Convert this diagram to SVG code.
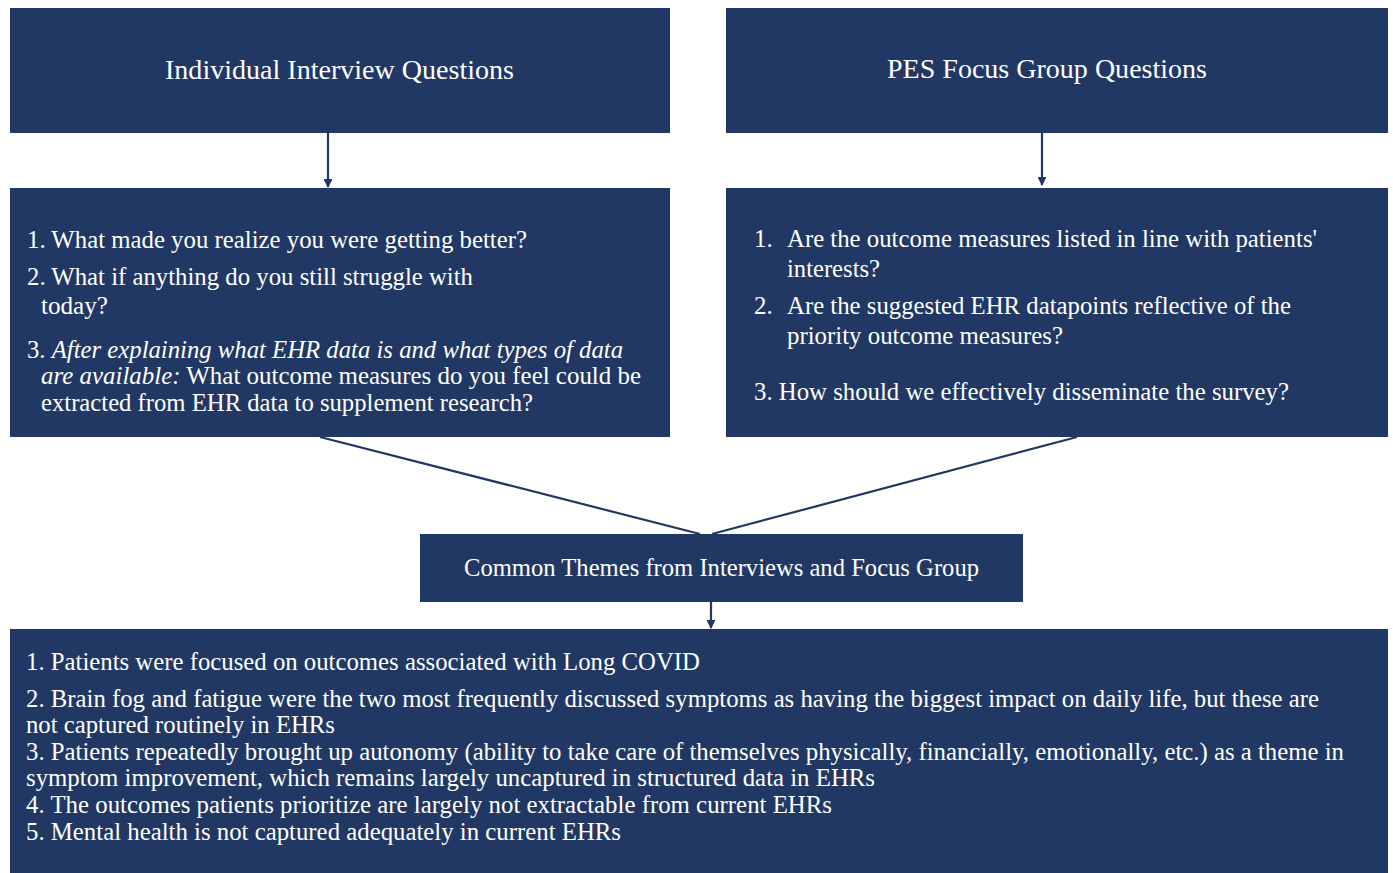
<svg xmlns="http://www.w3.org/2000/svg" width="1393" height="873" viewBox="0 0 1393 873">
<style>
.box{fill:#213864;}
.t{font-family:"Liberation Serif","Times New Roman",serif;fill:#ffffff;font-size:25px;}
.h{font-size:27px;}
.c{stroke:#213864;stroke-width:2.2;fill:none;}
</style>
<defs>
<marker id="ah" viewBox="0 0 10 10" refX="9" refY="5" markerWidth="4" markerHeight="4" orient="auto" markerUnits="strokeWidth">
<path d="M0,0 L10,5 L0,10 z" fill="#213864"/>
</marker>
</defs>
<rect width="1393" height="873" fill="#ffffff"/>
<g id="connectors">
<line class="c" x1="328" y1="133" x2="328" y2="187" marker-end="url(#ah)"/>
<line class="c" x1="1042" y1="133" x2="1042" y2="185" marker-end="url(#ah)"/>
<line class="c" x1="320" y1="437" x2="700" y2="534"/>
<line class="c" x1="1077" y1="437" x2="712" y2="534"/>
<line class="c" x1="711" y1="602" x2="711" y2="628" marker-end="url(#ah)"/>
</g>
<g id="individual-title">
<rect class="box" x="10" y="8" width="660" height="125"/>
<text class="t h" x="165" y="79" textLength="349" lengthAdjust="spacingAndGlyphs">Individual Interview Questions</text>
</g>
<g id="pes-title">
<rect class="box" x="726" y="8" width="662" height="125"/>
<text class="t h" x="887" y="78" textLength="320" lengthAdjust="spacingAndGlyphs">PES Focus Group Questions</text>
</g>
<g id="individual-questions">
<rect class="box" x="10" y="188" width="660" height="249"/>
<text class="t" x="27" y="248" textLength="500" lengthAdjust="spacingAndGlyphs">1. What made you realize you were getting better?</text>
<text class="t" x="27" y="285" textLength="446" lengthAdjust="spacingAndGlyphs">2. What if anything do you still struggle with</text>
<text class="t" x="41" y="314" textLength="67" lengthAdjust="spacingAndGlyphs">today?</text>
<text class="t" x="27" y="358" textLength="596" lengthAdjust="spacingAndGlyphs">3. <tspan font-style="italic">After explaining what EHR data is and what types of data</tspan></text>
<text class="t" x="41" y="384" textLength="600" lengthAdjust="spacingAndGlyphs"><tspan font-style="italic">are available:</tspan> What outcome measures do you feel could be</text>
<text class="t" x="41" y="411" textLength="492" lengthAdjust="spacingAndGlyphs">extracted from EHR data to supplement research?</text>
</g>
<g id="pes-questions">
<rect class="box" x="726" y="188" width="662" height="249"/>
<text class="t" x="754" y="247">1.</text>
<text class="t" x="787" y="247" textLength="530" lengthAdjust="spacingAndGlyphs">Are the outcome measures listed in line with patients'</text>
<text class="t" x="787" y="277" textLength="93" lengthAdjust="spacingAndGlyphs">interests?</text>
<text class="t" x="754" y="314">2.</text>
<text class="t" x="787" y="314" textLength="504" lengthAdjust="spacingAndGlyphs">Are the suggested EHR datapoints reflective of the</text>
<text class="t" x="787" y="344" textLength="276" lengthAdjust="spacingAndGlyphs">priority outcome measures?</text>
<text class="t" x="754" y="400" textLength="535" lengthAdjust="spacingAndGlyphs">3. How should we effectively disseminate the survey?</text>
</g>
<g id="common-themes-title">
<rect class="box" x="420" y="534" width="603" height="68"/>
<text class="t" x="464" y="576" textLength="515" lengthAdjust="spacingAndGlyphs">Common Themes from Interviews and Focus Group</text>
</g>
<g id="common-themes">
<rect class="box" x="10" y="629" width="1378" height="250"/>
<text class="t" x="26" y="670" textLength="674" lengthAdjust="spacingAndGlyphs">1. Patients were focused on outcomes associated with Long COVID</text>
<text class="t" x="26" y="707" textLength="1293" lengthAdjust="spacingAndGlyphs">2. Brain fog and fatigue were the two most frequently discussed symptoms as having the biggest impact on daily life, but these are</text>
<text class="t" x="26" y="733" textLength="309" lengthAdjust="spacingAndGlyphs">not captured routinely in EHRs</text>
<text class="t" x="26" y="760" textLength="1318" lengthAdjust="spacingAndGlyphs">3. Patients repeatedly brought up autonomy (ability to take care of themselves physically, financially, emotionally, etc.) as a theme in</text>
<text class="t" x="26" y="786" textLength="849" lengthAdjust="spacingAndGlyphs">symptom improvement, which remains largely uncaptured in structured data in EHRs</text>
<text class="t" x="26" y="813" textLength="806" lengthAdjust="spacingAndGlyphs">4. The outcomes patients prioritize are largely not extractable from current EHRs</text>
<text class="t" x="26" y="840" textLength="595" lengthAdjust="spacingAndGlyphs">5. Mental health is not captured adequately in current EHRs</text>
</g>
</svg>
